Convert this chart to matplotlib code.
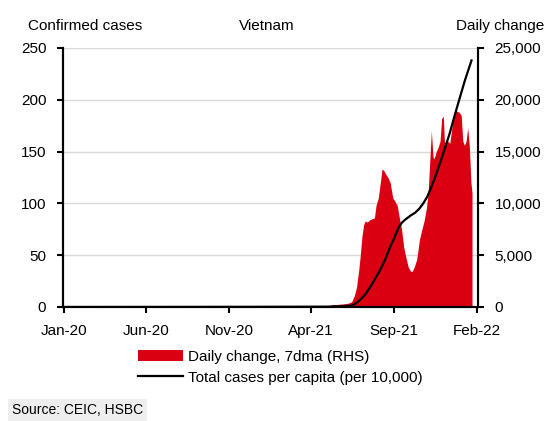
import matplotlib
matplotlib.use('Agg')
import matplotlib.pyplot as plt
import matplotlib.dates as mdates
from matplotlib.patches import Patch
from matplotlib.lines import Line2D
import numpy as np

plt.rcParams['font.family'] = ['Liberation Sans', 'DejaVu Sans']

# daily change, 7dma (RHS)
case_dates = ['2021-04-25', '2021-05-05', '2021-05-10', '2021-05-20', '2021-05-30', '2021-06-08',
              '2021-06-15', '2021-06-20', '2021-06-24', '2021-06-28', '2021-07-01', '2021-07-04',
              '2021-07-07', '2021-07-10', '2021-07-14', '2021-07-18', '2021-07-22', '2021-07-27',
              '2021-07-30', '2021-08-03', '2021-08-07', '2021-08-10', '2021-08-13', '2021-08-17',
              '2021-08-21', '2021-08-25', '2021-08-30', '2021-09-03', '2021-09-07', '2021-09-11',
              '2021-09-15', '2021-09-19', '2021-09-23', '2021-09-27', '2021-10-01', '2021-10-04',
              '2021-10-08', '2021-10-13', '2021-10-18', '2021-10-22', '2021-10-27', '2021-10-31',
              '2021-11-03', '2021-11-06', '2021-11-09', '2021-11-12', '2021-11-14', '2021-11-18',
              '2021-11-22', '2021-11-25', '2021-11-28', '2021-12-01', '2021-12-03', '2021-12-07',
              '2021-12-10', '2021-12-13', '2021-12-16', '2021-12-19', '2021-12-22', '2021-12-26',
              '2021-12-30', '2022-01-03', '2022-01-06', '2022-01-09', '2022-01-12', '2022-01-15',
              '2022-01-18', '2022-01-21', '2022-01-23']
case_vals = [0, 100, 220, 250, 300, 350,
             500, 1100, 1900, 3500, 5000, 6800,
             7900, 8300, 8200, 8400, 8500, 8600,
             9800, 10500, 12000, 13300, 13200, 12800,
             12500, 12000, 10500, 10200, 9800, 8600,
             7500, 5800, 4800, 3900, 3500, 3400,
             3800, 4600, 6500, 7400, 8400, 9600,
             11000, 14000, 17000, 14500, 14300, 15000,
             15500, 16000, 18200, 18400, 16000, 15800,
             16000, 15800, 17000, 18000, 19000, 18900,
             18800, 18500, 16000, 15600, 16000, 17300,
             15500, 12000, 11000]

# total cases per capita (per 10,000), LHS
total_dates = ['2020-01-01', '2020-06-01', '2021-01-01', '2021-04-30', '2021-05-31', '2021-06-14',
               '2021-06-20', '2021-06-30', '2021-07-10', '2021-07-19', '2021-07-28', '2021-08-06',
               '2021-08-16', '2021-08-25', '2021-09-02', '2021-09-09', '2021-09-15', '2021-09-21',
               '2021-10-01', '2021-10-10', '2021-10-18', '2021-10-25', '2021-11-01', '2021-11-06',
               '2021-11-15', '2021-11-25', '2021-12-04', '2021-12-13', '2021-12-22', '2022-01-01',
               '2022-01-10', '2022-01-22']
total_vals = [0, 0.03, 0.15, 0.3, 0.8, 1.3,
              2.5, 6.5, 12, 19, 27, 35,
              46, 58, 67, 76, 81, 84,
              88, 91, 95, 100, 106, 112,
              124, 139, 153, 168, 185, 203,
              219, 238]

tick_dates = ['2020-01-01', '2020-06-01', '2020-11-01', '2021-04-01', '2021-09-01', '2022-02-01']

red = '#DB0011'
fs = 11

fig = plt.figure(figsize=(5.6, 4.21), dpi=100)
ax = fig.add_axes([0.1125, 0.2708, 0.8536 - 0.1125, 0.886 - 0.2708])
ax2 = ax.twinx()

cd = np.array(case_dates, dtype='datetime64[D]')
td = np.array(total_dates, dtype='datetime64[D]')

ax2.fill_between(cd, case_vals, 0, color=red, lw=0)
ax.plot(td, total_vals, color='black', lw=1.6)

# line on top of the area
ax.set_zorder(ax2.get_zorder() + 1)
ax.patch.set_visible(False)

ax.set_ylim(0, 250)
ax.set_yticks([0, 50, 100, 150, 200, 250])
ax2.set_ylim(0, 25000)
ax2.set_yticks([0, 5000, 10000, 15000, 20000, 25000])
ax2.set_yticklabels(['0', '5,000', '10,000', '15,000', '20,000', '25,000'])

ax.set_xlim(np.datetime64('2019-12-31'), np.datetime64('2022-02-03'))
ax.set_xticks(np.array(tick_dates, dtype='datetime64[D]'))
ax.xaxis.set_major_formatter(mdates.DateFormatter('%b-%y'))

ax2.yaxis.grid(True, color='#d9d9d9', lw=1)
ax2.set_axisbelow(True)

for a in (ax, ax2):
    a.spines['top'].set_visible(False)
    for s in ('left', 'right', 'bottom'):
        a.spines[s].set_linewidth(1.5)
    a.tick_params(axis='y', labelsize=fs, width=1.5, length=4, direction='out', pad=8)
    a.tick_params(axis='x', labelsize=fs, width=1.5, length=4, direction='out', pad=8)

ax.text(-0.085, 1.085, 'Confirmed cases', transform=ax.transAxes, fontsize=fs, ha='left', va='center')
ax.text(0.49, 1.085, 'Vietnam', transform=ax.transAxes, fontsize=fs, ha='center', va='center')
ax2.text(1.16, 1.085, 'Daily change', transform=ax.transAxes, fontsize=fs, ha='right', va='center')

handles = [Patch(facecolor=red, edgecolor='none'), Line2D([0], [0], color='black', lw=1.6)]
labels = ['Daily change, 7dma (RHS)', 'Total cases per capita (per 10,000)']
fig.legend(handles, labels, loc='upper left', bbox_to_anchor=(138 / 560, 1 - 350 / 421),
           frameon=False, fontsize=fs, handlelength=2.95, handleheight=0.75,
           handletextpad=0.3, labelspacing=0.45, borderpad=0, borderaxespad=0)

fig.text(12 / 560, 1 - 410 / 421, 'Source: CEIC, HSBC', fontsize=10, ha='left', va='center',
         bbox=dict(facecolor='#eeeeee', edgecolor='none', pad=3))

fig.savefig('out.png', dpi=100)
